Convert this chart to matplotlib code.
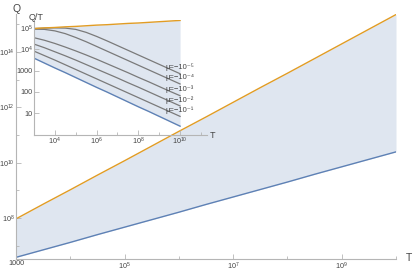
import numpy as np
import matplotlib
matplotlib.use("Agg")
import matplotlib.pyplot as plt
from matplotlib.ticker import FixedLocator, NullFormatter

plt.rcParams["font.family"] = ["Liberation Sans", "DejaVu Sans"]
plt.rcParams["mathtext.default"] = "regular"

# ---- data, all as log10 values ----
logT = [3, 3.5, 4, 4.5, 5, 5.5, 6, 6.5, 7, 7.5, 8, 8.5, 9, 9.5, 10]
# Q/T bounds
qt_upper = [4.97, 5.00, 5.02, 5.05, 5.07, 5.10, 5.13, 5.15, 5.18, 5.21, 5.23, 5.26, 5.29, 5.32, 5.35]
qt_lower = [3.58, 3.35, 3.12, 2.90, 2.67, 2.44, 2.21, 1.99, 1.76, 1.53, 1.30, 1.08, 0.85, 0.62, 0.39]
# Q/T curves for fixed mu
mu_labels = ["μ=−10⁻⁵", "μ=−10⁻⁴", "μ=−10⁻³", "μ=−10⁻²", "μ=−10⁻¹"]
qt_mu = [
    [4.97, 4.99, 5.00, 4.99, 4.93, 4.79, 4.60, 4.39, 4.17, 3.95, 3.73, 3.51, 3.29, 3.07, 2.85],
    [4.94, 4.93, 4.86, 4.73, 4.55, 4.35, 4.13, 3.91, 3.69, 3.47, 3.25, 3.03, 2.81, 2.59, 2.37],
    [4.54, 4.42, 4.27, 4.10, 3.92, 3.73, 3.53, 3.32, 3.11, 2.90, 2.68, 2.47, 2.25, 2.03, 1.82],
    [4.24, 4.07, 3.88, 3.69, 3.49, 3.28, 3.07, 2.86, 2.65, 2.43, 2.22, 2.00, 1.78, 1.56, 1.34],
    [3.91, 3.70, 3.49, 3.27, 3.05, 2.83, 2.61, 2.39, 2.17, 1.95, 1.73, 1.51, 1.29, 1.07, 0.85],
]
mu_label_pos = [3.14, 2.66, 2.14, 1.63, 1.15]

BLUE = "#5E81B5"
ORANGE = "#E19C24"
FILL = "#DFE6F0"
GRAY = "#7a7a7a"
AXC = "#b5b5b5"
TXT = "#444444"

T = 10.0 ** np.array(logT)
qtu = 10.0 ** np.array(qt_upper)
qtl = 10.0 ** np.array(qt_lower)

W, H = 415, 272
fig = plt.figure(figsize=(W / 100, H / 100), dpi=100)


def style_axes(ax, size=5.2):
    for s in ("top", "right"):
        ax.spines[s].set_visible(False)
    for s in ("left", "bottom"):
        ax.spines[s].set_color(AXC)
        ax.spines[s].set_linewidth(0.8)
    ax.tick_params(which="both", direction="in", colors=AXC, labelcolor=TXT,
                   labelsize=size, pad=1.0, width=0.6)
    ax.tick_params(which="major", length=3.5)
    ax.tick_params(which="minor", length=2)


def sci(e):
    plain = {1: "10", 2: "100", 3: "1000"}
    return plain.get(e, f"10$^{{{e}}}$")


# ---- main chart ----
ax = fig.add_axes([16 / W, 13 / H, 380 / W, 245 / H])
ax.set_xscale("log")
ax.set_yscale("log")
ax.fill_between(T, T * qtl, T * qtu, color=FILL, lw=0)
ax.plot(T, T * qtu, color=ORANGE, lw=1.0)
ax.plot(T, T * qtl, color=BLUE, lw=1.0)
ax.set_xlim(1e3, 1e10)
ax.set_ylim(10 ** 6.52, 10 ** 15.37)
style_axes(ax)
ax.xaxis.set_major_locator(FixedLocator([1e3, 1e5, 1e7, 1e9]))
ax.xaxis.set_minor_locator(FixedLocator([1e4, 1e6, 1e8, 1e10]))
ax.set_xticklabels([sci(e) for e in (3, 5, 7, 9)])
ax.xaxis.set_minor_formatter(NullFormatter())
ax.yaxis.set_major_locator(FixedLocator([1e8, 1e10, 1e12, 1e14]))
ax.yaxis.set_minor_locator(FixedLocator([1e7, 1e9, 1e11, 1e13, 1e15]))
ax.set_yticklabels([sci(e) for e in (8, 10, 12, 14)])
ax.yaxis.set_minor_formatter(NullFormatter())
ax.patch.set_alpha(0)
fig.text(17 / W, 1 - 9 / H, "Q", ha="center", va="center", fontsize=7.5, color=TXT)
fig.text(406 / W, 1 - 258 / H, "T", ha="left", va="center", fontsize=7.5, color=TXT)

# ---- inset ----
ins = fig.add_axes([34 / W, (H - 134.5) / H, 173 / W, 114.5 / H])
ins.set_xscale("log")
ins.set_yscale("log")
ins.fill_between(T, qtl, qtu, color=FILL, lw=0)
for row in qt_mu:
    ins.plot(T, 10.0 ** np.array(row), color=GRAY, lw=0.9)
ins.plot(T, qtu, color=ORANGE, lw=1.0)
ins.plot(T, qtl, color=BLUE, lw=1.0)
for lab, yv in zip(mu_labels, mu_label_pos):
    ins.text(10 ** 9.28, 10 ** yv, lab, fontsize=5.5, color=TXT,
             ha="left", va="center")
ins.set_xlim(1e3, 10 ** 11.29)
ins.set_ylim(1, 10 ** 5.37)
style_axes(ins)
ins.xaxis.set_major_locator(FixedLocator([1e4, 1e6, 1e8, 1e10]))
ins.xaxis.set_minor_locator(FixedLocator([1e5, 1e7, 1e9, 1e11]))
ins.set_xticklabels([sci(e) for e in (4, 6, 8, 10)])
ins.xaxis.set_minor_formatter(NullFormatter())
ins.yaxis.set_major_locator(FixedLocator([1e1, 1e2, 1e3, 1e4, 1e5]))
ins.yaxis.set_minor_locator(FixedLocator([]))
ins.set_yticklabels([sci(e) for e in (1, 2, 3, 4, 5)])
ins.patch.set_alpha(0)
fig.text(36 / W, 1 - 17 / H, "Q/T", ha="center", va="center", fontsize=6.5, color=TXT)
fig.text(210 / W, 1 - 135 / H, "T", ha="left", va="center", fontsize=6.5, color=TXT)

fig.savefig("out.png", dpi=100)
